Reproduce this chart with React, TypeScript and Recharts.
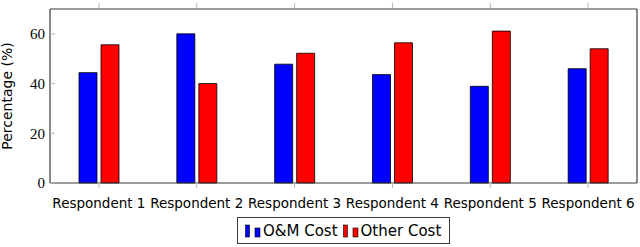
import { BarChart, Bar, XAxis, YAxis, Legend } from 'recharts';

const respondents = ['Respondent 1', 'Respondent 2', 'Respondent 3', 'Respondent 4', 'Respondent 5', 'Respondent 6'];
const omCost = [44.4, 60, 47.8, 43.6, 38.9, 46];
const otherCost = [55.6, 40, 52.2, 56.4, 61.1, 54];
const yTicks = [0, 20, 40, 60];

const data = respondents.map((name, i) => ({ name, om: omCost[i], other: otherCost[i] }));

const sans = '"DejaVu Sans", sans-serif';
const serif = '"Liberation Serif", serif';
const frame = '#3a3a3a';
const tickGray = '#b5b5b5';

function LegendIcon({ color }: { color: string }) {
  return (
    <svg width={17} height={14} style={{ display: 'block' }}>
      <rect x={0.5} y={1} width={4} height={12} fill={color} stroke="#000" strokeWidth={0.6} />
      <rect x={10} y={4} width={5} height={9} fill={color} stroke="#000" strokeWidth={0.6} />
    </svg>
  );
}

function LegendBox() {
  const items = [
    { label: 'O&M Cost', color: '#0000ff' },
    { label: 'Other Cost', color: '#ff0000' },
  ];
  return (
    <div
      style={{
        border: `1px solid ${frame}`,
        background: '#fff',
        display: 'flex',
        alignItems: 'center',
        padding: '0 8px 0 7px',
        fontFamily: sans,
        fontSize: 15,
        color: '#000',
        height: 27,
        boxSizing: 'border-box',
      }}
    >
      {items.map((it, i) => (
        <div key={it.label} style={{ display: 'flex', alignItems: 'center', marginRight: i === 0 ? 5 : 0 }}>
          <LegendIcon color={it.color} />
          <span style={{ marginLeft: 1, whiteSpace: 'pre' }}>{it.label}</span>
        </div>
      ))}
    </div>
  );
}

export default function App() {
  return (
    <div style={{ position: 'absolute', left: 0, top: 0, width: 640, height: 247, background: '#fff' }}>
      <BarChart
        width={640}
        height={247}
        data={data}
        margin={{ top: 8, right: 2, left: 0, bottom: 34 }}
        barSize={18}
        barGap={4}
      >
        <XAxis
          dataKey="name"
          height={30}
          axisLine={{ stroke: frame, strokeWidth: 1.2 }}
          tickLine={{ stroke: tickGray }}
          tickSize={5}
          tickMargin={10}
          tick={{ fill: '#000', fontFamily: sans, fontSize: 13.5 }}
          interval={0}
        />
        <XAxis
          xAxisId="top"
          orientation="top"
          dataKey="name"
          height={1}
          axisLine={{ stroke: frame, strokeWidth: 1.2 }}
          tickLine={{ stroke: tickGray }}
          tickSize={6}
          tick={() => <g />}
          interval={0}
        />
        <YAxis
          width={50}
          domain={[0, 70]}
          ticks={yTicks}
          axisLine={{ stroke: frame, strokeWidth: 1.2 }}
          tickLine={{ stroke: tickGray }}
          tickSize={-5}
          tickMargin={10}
          tick={{ fill: '#000', fontFamily: serif, fontSize: 15 }}
          label={() => (
            <text
              x={12}
              y={96}
              transform="rotate(-90 12 96)"
              textAnchor="middle"
              fontFamily={sans}
              fontSize={14}
              fill="#000"
            >
              Percentage (%)
            </text>
          )}
        />
        <YAxis
          yAxisId="right"
          orientation="right"
          width={1}
          domain={[0, 70]}
          ticks={yTicks}
          axisLine={{ stroke: frame, strokeWidth: 1.2 }}
          tickLine={{ stroke: tickGray }}
          tickSize={-5}
          tick={() => <g />}
        />
        <Bar dataKey="om" name="O&M Cost" fill="#0000ff" stroke="#000" strokeWidth={0.8} isAnimationActive={false} />
        <Bar dataKey="other" name="Other Cost" fill="#ff0000" stroke="#000" strokeWidth={0.8} isAnimationActive={false} />
        <Legend
          verticalAlign="middle"
          content={() => <LegendBox />}
          wrapperStyle={{ left: 237, top: 217, width: 'auto', height: 'auto' }}
        />
      </BarChart>
    </div>
  );
}
